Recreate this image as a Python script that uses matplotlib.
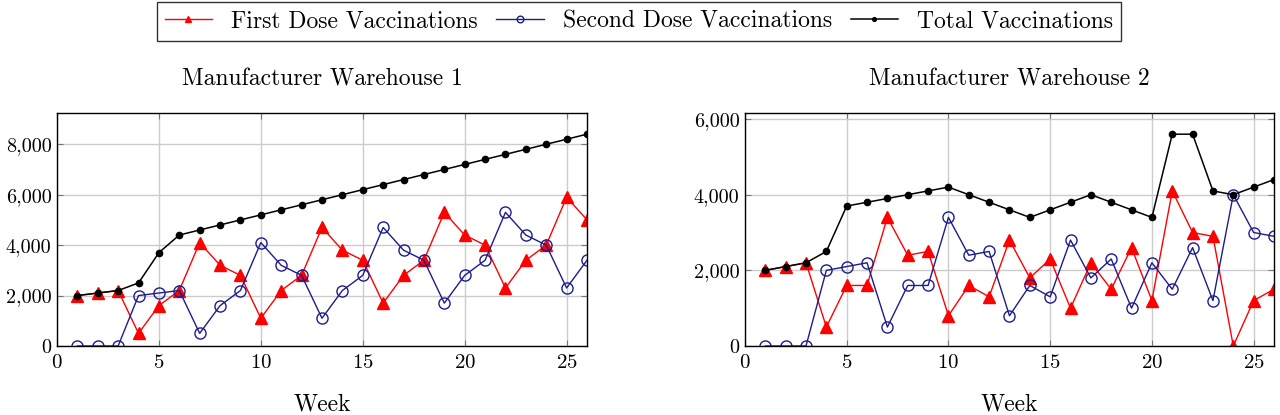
import matplotlib.pyplot as plt
from matplotlib.ticker import FuncFormatter

plt.rcParams['font.family'] = ['cmr10', 'DejaVu Serif']
plt.rcParams['axes.formatter.use_mathtext'] = True

weeks = list(range(1, 27))

# Manufacturer Warehouse 1
first_w1 = [2000, 2100, 2200, 500, 1600, 2200, 4100, 3200, 2800, 1100, 2200, 2800, 4700,
            3800, 3400, 1700, 2800, 3400, 5300, 4400, 4000, 2300, 3400, 4000, 5900, 5000]
second_w1 = [0, 0, 0, 2000, 2100, 2200, 500, 1600, 2200, 4100, 3200, 2800, 1100,
             2200, 2800, 4700, 3800, 3400, 1700, 2800, 3400, 5300, 4400, 4000, 2300, 3400]
total_w1 = [2000, 2100, 2200, 2500, 3700, 4400, 4600, 4800, 5000, 5200, 5400, 5600, 5800,
            6000, 6200, 6400, 6600, 6800, 7000, 7200, 7400, 7600, 7800, 8000, 8200, 8400]

# Manufacturer Warehouse 2
first_w2 = [2000, 2100, 2200, 500, 1600, 1600, 3400, 2400, 2500, 800, 1600, 1300, 2800,
            1800, 2300, 1000, 2200, 1500, 2600, 1200, 4100, 3000, 2900, 0, 1200, 1500]
second_w2 = [0, 0, 0, 2000, 2100, 2200, 500, 1600, 1600, 3400, 2400, 2500, 800,
             1600, 1300, 2800, 1800, 2300, 1000, 2200, 1500, 2600, 1200, 4000, 3000, 2900]
total_w2 = [2000, 2100, 2200, 2500, 3700, 3800, 3900, 4000, 4100, 4200, 4000, 3800, 3600,
            3400, 3600, 3800, 4000, 3800, 3600, 3400, 5600, 5600, 4100, 4000, 4200, 4400]

panels = [
    ("Manufacturer Warehouse 1", first_w1, second_w1, total_w1, [0, 2000, 4000, 6000, 8000]),
    ("Manufacturer Warehouse 2", first_w2, second_w2, total_w2, [0, 2000, 4000, 6000]),
]

fig = plt.figure(figsize=(12.8, 4.15), dpi=100)
boxes = [[0.0445, 0.1663, 0.4141, 0.5614], [0.582, 0.1663, 0.4133, 0.5614]]

fmt = FuncFormatter(lambda v, p: f"{int(v):,}")

for box, (title, first, second, total, yt) in zip(boxes, panels):
    ax = fig.add_axes(box)
    ax.plot(weeks, first, color='red', lw=1, marker='^', ms=8, label='First Dose Vaccinations')
    ax.plot(weeks, second, color='#1c1c8c', lw=1, marker='o', ms=8, mfc='none', mew=1,
            label='Second Dose Vaccinations')
    ax.plot(weeks, total, color='black', lw=1.1, marker='o', ms=4.5, label='Total Vaccinations')
    ax.set_xlim(0, 26)
    ax.set_ylim(0, max(total) * 1.1)
    ax.set_xticks([0, 5, 10, 15, 20, 25])
    ax.set_yticks(yt)
    ax.yaxis.set_major_formatter(fmt)
    ax.grid(True, color='#cccccc', lw=1)
    ax.set_axisbelow(True)
    ax.tick_params(direction='in', length=4, labelsize=15, top=True, right=True,
                   color='#777777', pad=6)
    ax.tick_params(axis='y', labelsize=14.5, pad=4)
    ax.set_title(title, fontsize=17, pad=20)
    ax.set_xlabel('Week', fontsize=17, labelpad=15)
    for s in ax.spines.values():
        s.set_linewidth(1)

handles, labels = ax.get_legend_handles_labels()
leg = fig.legend(handles, labels, loc='upper center', bbox_to_anchor=(0.499, 0.995), ncol=3,
                 fontsize=17, frameon=True, fancybox=False, edgecolor='black',
                 handlelength=2.0, handletextpad=0.8, columnspacing=0.8,
                 markerscale=0.6, borderpad=0.35, borderaxespad=0)
leg.get_frame().set_linewidth(1)

fig.savefig('out.png', dpi=100)
